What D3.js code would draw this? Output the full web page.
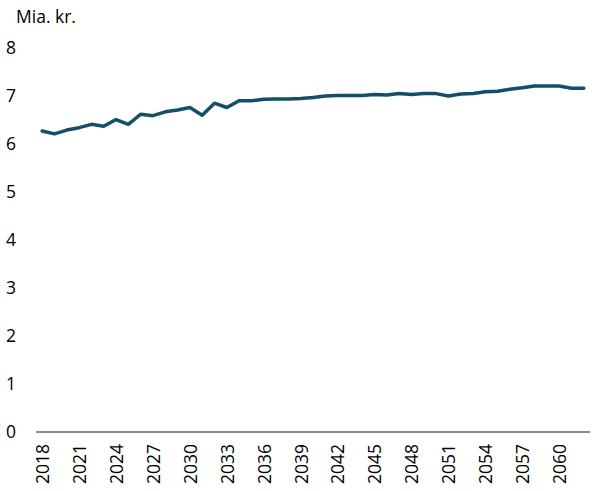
<!DOCTYPE html>
<html>
<head>
<meta charset="utf-8">
<script src="https://cdn.jsdelivr.net/npm/d3@7"></script>
<style>
  body { margin: 0; background: #fff; }
  text { font-family: "Open Sans", "Noto Sans", sans-serif; fill: #000; }
</style>
</head>
<body>
<svg id="chart"></svg>
<script>
// years 2018-2062
const years = d3.range(2018, 2063);
// billion kroner
const values = [
  6.27, 6.21, 6.29, 6.34, 6.41, 6.37, 6.51, 6.41, 6.62, 6.59,
  6.67, 6.71, 6.76, 6.60, 6.85, 6.76, 6.90, 6.90, 6.93, 6.94,
  6.94, 6.95, 6.97, 7.00, 7.01, 7.01, 7.01, 7.03, 7.02, 7.05,
  7.03, 7.05, 7.05, 7.00, 7.04, 7.05, 7.09, 7.10, 7.14, 7.17,
  7.21, 7.21, 7.21, 7.16, 7.16
];
const yTicks = [0, 1, 2, 3, 4, 5, 6, 7, 8];
const xTicks = years.filter((d, i) => i % 3 === 0);

const width = 592, height = 491;
const svg = d3.select('#chart').attr('width', width).attr('height', height);

const x = d3.scalePoint().domain(years).range([36, 590]).padding(0.5);
const y = d3.scaleLinear().domain([0, 8]).range([432, 48]);

// y labels
svg.append('g').selectAll('text')
  .data(yTicks)
  .enter()
  .append('text')
  .attr('x', 6)
  .attr('y', d => y(d))
  .attr('dy', '0.36em')
  .style('font-size', '17.5px')
  .text(d => d);

svg.append('text')
  .attr('x', 16)
  .attr('y', 23)
  .style('font-size', '17.5px')
  .text('Mia. kr.');

// x axis
const xAxis = svg.append('g')
  .attr('transform', `translate(0, ${y(0)})`)
  .call(d3.axisBottom(x).tickValues(xTicks).tickSize(0).tickPadding(0));
xAxis.select('.domain').attr('stroke', '#666').attr('stroke-width', 1.5).attr('d', 'M36,0H590');
xAxis.selectAll('text')
  .attr('transform', 'rotate(-90)')
  .attr('x', -12)
  .attr('y', 0)
  .attr('dy', '0.36em')
  .attr('text-anchor', 'end')
  .style('font-size', '17.5px')
  .style('font-family', '"Open Sans", "Noto Sans", sans-serif')
  .attr('fill', '#000');

// line
const line = d3.line()
  .x((d, i) => x(years[i]))
  .y(d => y(d));

svg.append('path')
  .datum(values)
  .attr('fill', 'none')
  .attr('stroke', '#134f68')
  .attr('stroke-width', 3.5)
  .attr('stroke-linejoin', 'round')
  .attr('stroke-linecap', 'round')
  .attr('d', line);
</script>
</body>
</html>
